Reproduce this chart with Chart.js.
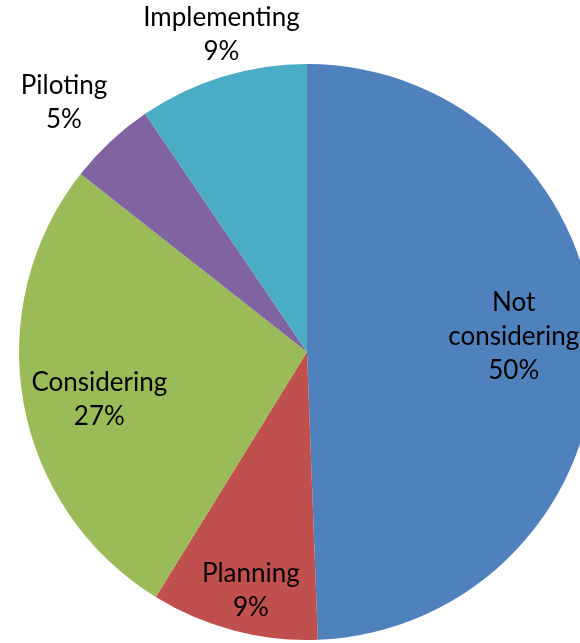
<!DOCTYPE html>
<html>
<head>
<meta charset="utf-8">
<script src="https://cdn.jsdelivr.net/npm/chart.js@4/dist/chart.umd.min.js"></script>
<style>
  html, body { margin: 0; padding: 0; background: #fff; overflow: hidden; }
  #wrap { position: absolute; left: 0; top: 0; width: 614px; height: 643px; }
</style>
</head>
<body>
<div id="wrap"><canvas id="pieChart"></canvas></div>
<script>
// stages, clockwise from 12 o'clock
const categories = ['Not considering', 'Planning', 'Considering', 'Piloting', 'Implementing'];
// slice sizes (blue ends just short of 6 o'clock)
const shares = [49.4, 9.4, 26.8, 4.9, 9.5];
// percentages printed on the labels
const printedPercents = [50, 9, 27, 5, 9];
const labelLines = [['Not', 'considering'], ['Planning'], ['Considering'], ['Piloting'], ['Implementing']];

const sliceColors = ['#4f81bd', '#c0504d', '#9bbb59', '#8064a2', '#4bacc6'];

// draws the data labels, Excel "best fit" style
const sliceLabels = {
    id: 'sliceLabels',
    afterDatasetsDraw(chart, args, opts) {
        const c = chart.ctx;
        const meta = chart.getDatasetMeta(0);
        c.save();
        c.font = opts.font;
        c.fillStyle = opts.color;
        c.textAlign = 'center';
        c.textBaseline = 'middle';
        meta.data.forEach((arc, i) => {
            const p = arc.getProps(['x', 'y', 'startAngle', 'endAngle', 'outerRadius'], true);
            const mid = (p.startAngle + p.endAngle) / 2 + opts.nudge[i] * Math.PI / 180;
            const r = p.outerRadius * opts.radius[i];
            const x = p.x + Math.cos(mid) * r;
            const y = p.y + Math.sin(mid) * r;
            const lines = labelLines[i].concat(printedPercents[i] + '%');
            const top = y - (lines.length - 1) * opts.lineHeight / 2;
            lines.forEach((t, j) => c.fillText(t, x, top + j * opts.lineHeight));
        });
        c.restore();
    }
};

const ctx = document.getElementById('pieChart').getContext('2d');
new Chart(ctx, {
    type: 'pie',
    data: {
        labels: categories,
        datasets: [{
            data: shares,
            backgroundColor: sliceColors,
            borderWidth: 0,
            hoverOffset: 0
        }]
    },
    options: {
        responsive: true,
        maintainAspectRatio: false,
        animation: false,
        layout: { padding: { top: 64, bottom: 3, left: 19, right: 19 } },
        events: [],
        plugins: {
            legend: { display: false },
            tooltip: { enabled: false },
            sliceLabels: {
                font: '26px Lato',
                color: '#000',
                lineHeight: 34,
                radius: [0.72, 0.85, 0.74, 1.21, 1.14],
                nudge: [-3.3, -1.5, -2.9, -1.2, 2]
            }
        }
    },
    plugins: [sliceLabels]
});
</script>
</body>
</html>
